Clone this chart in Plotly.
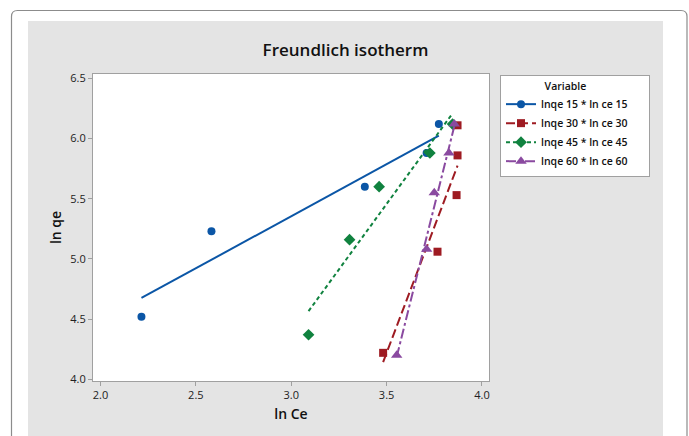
import numpy as np
import plotly.graph_objects as go

# ---- data ----
series_names = ["lnqe 15 * ln ce 15", "lnqe 30 * ln ce 30", "lnqe 45 * ln ce 45", "lnqe 60 * ln ce 60"]
ln_ce_15 = [2.215, 2.582, 3.386, 3.710, 3.774]
ln_qe_15 = [4.52, 5.23, 5.60, 5.88, 6.12]
ln_ce_30 = [3.482, 3.767, 3.867, 3.872, 3.872]
ln_qe_30 = [4.22, 5.06, 5.53, 5.86, 6.11]
ln_ce_45 = [3.091, 3.306, 3.461, 3.727, 3.846]
ln_qe_45 = [4.37, 5.16, 5.60, 5.88, 6.12]
ln_ce_60 = [3.553, 3.710, 3.750, 3.827, 3.855]
ln_qe_60 = [4.20, 5.08, 5.55, 5.88, 6.12]
x_ticks = [2.0, 2.5, 3.0, 3.5, 4.0]
y_ticks = [4.0, 4.5, 5.0, 5.5, 6.0, 6.5]

# ---- styles ----
colors = ["#0B56A6", "#9E1B22", "#10823F", "#8A4AA0"]
symbols = ["circle", "square", "diamond", "triangle-up"]
msizes = [8, 8, 9, 10]
dashes = ["solid", "9px,4px", "4px,3px", "10px,3px,3px,3px"]
FONT = "Open Sans"
PAD = "\u00a0" * 6  # widens the legend box to match the reference

xs = [ln_ce_15, ln_ce_30, ln_ce_45, ln_ce_60]
ys = [ln_qe_15, ln_qe_30, ln_qe_45, ln_qe_60]

fig = go.Figure()
for i in range(4):
    x = np.array(xs[i]); y = np.array(ys[i])
    b, a = np.polyfit(x, y, 1)
    fx = np.array([x.min(), x.max()])
    fy = a + b * fx
    g = f"g{i}"
    fig.add_trace(go.Scatter(x=fx, y=fy, mode="lines", legendgroup=g, showlegend=False,
                             line=dict(color=colors[i], width=2, dash=dashes[i]), hoverinfo="skip"))
    fig.add_trace(go.Scatter(x=x, y=y, mode="markers", legendgroup=g, showlegend=False,
                             marker=dict(color=colors[i], symbol=symbols[i], size=msizes[i])))
    fig.add_trace(go.Scatter(x=[None], y=[None], mode="lines+markers", name=series_names[i] + PAD,
                             legendgroup=g,
                             line=dict(color=colors[i], width=2, dash=dashes[i]),
                             marker=dict(color=colors[i], symbol=symbols[i], size=msizes[i])))

# pixel -> paper helpers (plot area 93..489 x, 74..381 y)
L, R, T, B = 93, 489, 74, 381
W, H = R - L, B - T
def X(px): return (px - L) / W
def Y(py): return (B - py) / H

r = 6
x0, x1, y0 = 11.5, 687, 10.5
frame = (f"M {X(x0+r)},{Y(y0)} L {X(x1-r)},{Y(y0)} Q {X(x1)},{Y(y0)} {X(x1)},{Y(y0+r)} "
         f"L {X(x1)},{Y(460)} L {X(x0)},{Y(460)} L {X(x0)},{Y(y0+r)} Q {X(x0)},{Y(y0)} {X(x0+r)},{Y(y0)} Z")

shapes = [
    dict(type="path", xref="paper", yref="paper", path=frame, fillcolor="white",
         line=dict(color="#8c8c8c", width=1.2), layer="below"),
    dict(type="rect", xref="paper", yref="paper", x0=X(28), x1=X(663), y0=Y(460), y1=Y(21),
         fillcolor="#E4E4E4", line=dict(width=0), layer="below"),
    dict(type="rect", xref="paper", yref="paper", x0=0, x1=1, y0=0, y1=1,
         fillcolor="white", line=dict(width=0), layer="below"),
]

axis_common = dict(showgrid=False, zeroline=False, showline=True, mirror=True,
                   linecolor="#A0A0A0", linewidth=1, ticks="outside", ticklen=4,
                   tickcolor="#A0A0A0", tickformat=".1f",
                   tickfont=dict(family=FONT, size=11, color="#222222"))

fig.update_layout(
    width=689, height=436,
    margin=dict(l=L, r=689 - R, t=T, b=436 - B, pad=0),
    paper_bgcolor="white", plot_bgcolor="white",
    shapes=shapes,
    font=dict(family=FONT, color="#111111"),
    title=dict(text="Freundlich isotherm", x=X(345.5), xanchor="center", xref="paper",
               y=1 - 50 / 436, yanchor="middle",
               font=dict(family=FONT, size=17, weight=600, color="#111111")),
    xaxis=dict(range=[1.961, 4.037], tickvals=x_ticks,
               title=dict(text="ln Ce", standoff=7, font=dict(family=FONT, size=14, weight=600, color="#111111")),
               **axis_common),
    yaxis=dict(range=[3.986, 6.536], tickvals=y_ticks,
               title=dict(text="ln qe", standoff=5, font=dict(family=FONT, size=14, weight=600, color="#111111")),
               **axis_common),
    legend=dict(x=X(500), y=Y(75), xanchor="left", yanchor="top",
                bgcolor="white", bordercolor="#A0A0A0", borderwidth=1,
                font=dict(family=FONT, size=10.5, weight=600, color="#111111"),
                title=dict(text="Variable" + "\u00a0" * 7, side="top center",
                           font=dict(family=FONT, size=10.5, weight=600, color="#111111")),
                itemwidth=30, tracegroupgap=0),
    showlegend=True,
)

fig.write_html("out.html", post_script="document.body.style.margin='0';",
               config={"displayModeBar": False})
